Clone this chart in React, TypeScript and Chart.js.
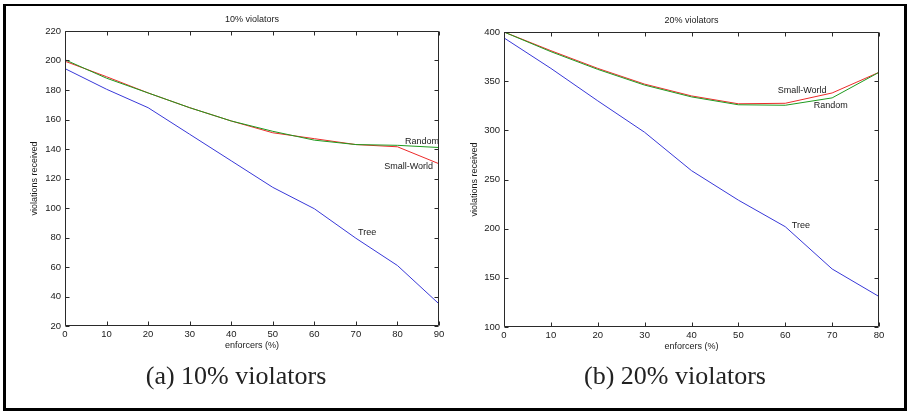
import React, { useEffect, useRef } from 'react';
import { Chart, registerables } from 'chart.js';

Chart.register(...registerables);

// ---------- data ----------
const enforcersA = [0, 10, 20, 30, 40, 50, 60, 70, 80, 90];
const treeA = [194.5, 180.5, 168, 150, 132, 114, 99.5, 79.5, 61, 35];
const randomA = [200.5, 188, 178, 168, 159, 152, 146, 143, 142.5, 141];
const smallWorldA = [199.5, 189, 178, 168, 159, 151, 147, 143, 141.5, 130];

const enforcersB = [0, 10, 20, 30, 40, 50, 60, 70, 80];
const treeB = [394, 363, 330, 298, 259, 229, 202, 159, 131];
const randomB = [400, 380, 362, 346, 334, 326, 325.5, 333, 359];
const smallWorldB = [400, 381, 363, 347, 335, 327, 327.5, 338, 359];

const titleA = '10% violators';
const titleB = '20% violators';
const captionA = '(a) 10% violators';
const captionB = '(b) 20% violators';
const xTitle = 'enforcers (%)';
const yTitle = 'violations received';

const notesA = [
  { text: 'Random', x: 81.8, y: 145 },
  { text: 'Small-World', x: 76.8, y: 128 },
  { text: 'Tree', x: 70.5, y: 83.5 },
];
const notesB = [
  { text: 'Small-World', x: 58.4, y: 341 },
  { text: 'Random', x: 66.1, y: 325 },
  { text: 'Tree', x: 61.4, y: 203.7 },
];

const BLUE = '#3838d8';
const GREEN = '#1e9a1e';
const RED = '#ec2a2a';
const FONT = "'Liberation Sans', Arial, Helvetica, sans-serif";
const TEXT = '#1a1a1a';

const decor = {
  id: 'decor',
  afterDraw(chart: any, _args: any, opts: any) {
    const { ctx, chartArea: a, scales } = chart;
    const xs = scales.x;
    const ys = scales.y;
    ctx.save();
    ctx.strokeStyle = '#2a2a2a';
    ctx.lineWidth = 1;
    const L = Math.round(a.left) + 0.5;
    const R = Math.round(a.right) - 0.5;
    const T = Math.round(a.top) + 0.5;
    const B = Math.round(a.bottom) - 0.5;
    ctx.beginPath();
    ctx.rect(L, T, R - L, B - T);
    ctx.stroke();
    const tl = 4;
    ctx.beginPath();
    xs.ticks.forEach((t: any) => {
      const p = Math.round(xs.getPixelForValue(t.value)) + 0.5;
      ctx.moveTo(p, B);
      ctx.lineTo(p, B - tl);
      ctx.moveTo(p, T);
      ctx.lineTo(p, T + tl);
    });
    ys.ticks.forEach((t: any) => {
      const p = Math.round(ys.getPixelForValue(t.value)) + 0.5;
      ctx.moveTo(L, p);
      ctx.lineTo(L + tl, p);
      ctx.moveTo(R, p);
      ctx.lineTo(R - tl, p);
    });
    ctx.stroke();

    ctx.fillStyle = TEXT;
    ctx.font = `9px ${FONT}`;
    ctx.textAlign = 'center';
    ctx.textBaseline = 'middle';
    const cx = (a.left + a.right) / 2;
    ctx.fillText(opts.title, cx, opts.titleY);
    ctx.fillText(opts.xTitle, cx, opts.xTitleY);
    ctx.save();
    ctx.translate(opts.yTitleX, (a.top + a.bottom) / 2);
    ctx.rotate(-Math.PI / 2);
    ctx.fillText(opts.yTitle, 0, 0);
    ctx.restore();

    ctx.textAlign = 'left';
    opts.notes.forEach((n: any) => {
      ctx.fillText(n.text, xs.getPixelForValue(n.x), ys.getPixelForValue(n.y));
    });

    ctx.font = "26px 'Liberation Serif', 'Times New Roman', serif";
    ctx.fillStyle = '#222';
    ctx.textAlign = 'center';
    ctx.textBaseline = 'alphabetic';
    ctx.fillText(opts.caption, opts.captionX, opts.captionY);
    ctx.restore();
  },
};

function makeConfig(p: {
  xs: number[];
  tree: number[];
  random: number[];
  small: number[];
  xMax: number;
  yMin: number;
  yMax: number;
  yStep: number;
  padTop: number;
  padRight: number;
  yWidth: number;
  xHeight: number;
  decorOpts: any;
}): any {
  const pts = (ys: number[]) => p.xs.map((x, i) => ({ x, y: ys[i] }));
  const line = (label: string, data: number[], color: string) => ({
    label,
    data: pts(data),
    borderColor: color,
    backgroundColor: color,
    borderWidth: 1,
    pointRadius: 0,
    tension: 0,
    fill: false,
  });
  const tickFont = { family: FONT, size: 9.5 };
  return {
    type: 'line',
    data: {
      datasets: [
        line('Tree', p.tree, BLUE),
        line('Random', p.random, GREEN),
        line('Small-World', p.small, RED),
      ],
    },
    options: {
      responsive: false,
      animation: false,
      layout: { padding: { left: 0, top: p.padTop, right: p.padRight, bottom: 0 } },
      plugins: {
        legend: { display: false },
        tooltip: { enabled: false },
        title: { display: false },
        decor: p.decorOpts,
      },
      scales: {
        x: {
          type: 'linear',
          min: 0,
          max: p.xMax,
          grid: { display: false, drawTicks: false },
          border: { display: false },
          ticks: { stepSize: 10, padding: 3, color: TEXT, font: tickFont, maxRotation: 0, autoSkip: false },
          afterFit: (s: any) => {
            s.height = p.xHeight;
          },
        },
        y: {
          type: 'linear',
          min: p.yMin,
          max: p.yMax,
          grid: { display: false, drawTicks: false },
          border: { display: false },
          ticks: { stepSize: p.yStep, padding: 4, color: TEXT, font: tickFont, autoSkip: false },
          afterFit: (s: any) => {
            s.width = p.yWidth;
          },
        },
      },
    },
    plugins: [decor],
  };
}

function Panel({ config, left, width }: { config: any; left: number; width: number }) {
  const ref = useRef<HTMLCanvasElement | null>(null);
  useEffect(() => {
    if (!ref.current) return;
    const chart = new Chart(ref.current, config);
    return () => chart.destroy();
  }, [config]);
  return (
    <canvas
      ref={ref}
      width={width}
      height={411}
      style={{ position: 'absolute', left, top: 0, width, height: 411 }}
    />
  );
}

const configA = makeConfig({
  xs: enforcersA,
  tree: treeA,
  random: randomA,
  small: smallWorldA,
  xMax: 90,
  yMin: 20,
  yMax: 220,
  yStep: 20,
  padTop: 31,
  padRight: 16,
  yWidth: 65,
  xHeight: 85,
  decorOpts: {
    title: titleA,
    titleY: 20,
    xTitle,
    xTitleY: 346,
    yTitle,
    yTitleX: 35,
    notes: notesA,
    caption: captionA,
    captionX: 236,
    captionY: 384,
  },
});

const configB = makeConfig({
  xs: enforcersB,
  tree: treeB,
  random: randomB,
  small: smallWorldB,
  xMax: 80,
  yMin: 100,
  yMax: 400,
  yStep: 50,
  padTop: 32,
  padRight: 30,
  yWidth: 49,
  xHeight: 84,
  decorOpts: {
    title: titleB,
    titleY: 21,
    xTitle,
    xTitleY: 347,
    yTitle,
    yTitleX: 20,
    notes: notesB,
    caption: captionB,
    captionX: 220,
    captionY: 384,
  },
});

export default function App() {
  return (
    <div
      style={{
        position: 'fixed',
        left: 0,
        top: 0,
        width: 909,
        height: 411,
        background: '#fff',
        overflow: 'hidden',
      }}
    >
      <Panel config={configA} left={0} width={455} />
      <Panel config={configB} left={455} width={454} />
      <div
        style={{
          position: 'absolute',
          left: 3,
          top: 4,
          width: 904,
          height: 407,
          boxSizing: 'border-box',
          borderStyle: 'solid',
          borderColor: '#000',
          borderWidth: '2px 3px 3px 3px',
          pointerEvents: 'none',
        }}
      />
    </div>
  );
}
